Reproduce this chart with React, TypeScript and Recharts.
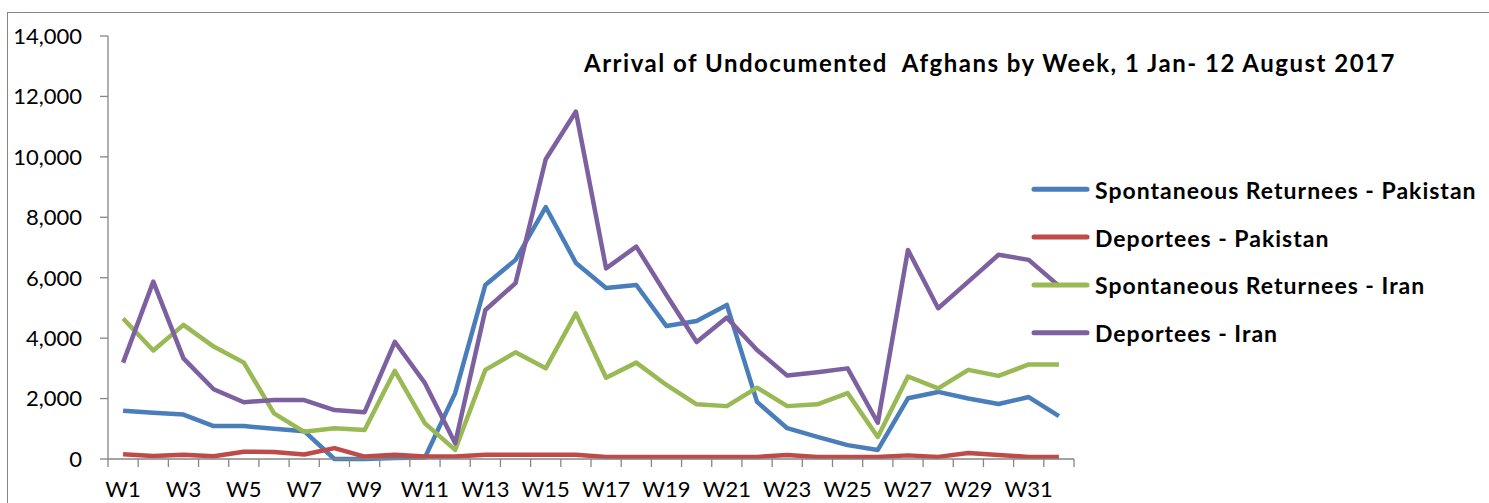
import React from 'react';
import { LineChart, Line, XAxis, YAxis } from 'recharts';

const weeks = [
  'W1', 'W2', 'W3', 'W4', 'W5', 'W6', 'W7', 'W8', 'W9', 'W10', 'W11', 'W12', 'W13', 'W14', 'W15', 'W16',
  'W17', 'W18', 'W19', 'W20', 'W21', 'W22', 'W23', 'W24', 'W25', 'W26', 'W27', 'W28', 'W29', 'W30', 'W31', 'W32',
];

const spontPakistan = [
  1600, 1530, 1470, 1090, 1090, 1000, 920, 0, 0, 30, 50, 2180, 5760, 6590, 8340, 6490,
  5660, 5760, 4400, 4570, 5100, 1890, 1020, 730, 460, 300, 2010, 2220, 2000, 1820, 2050, 1420,
];
const deportPakistan = [
  160, 100, 140, 90, 240, 230, 150, 360, 80, 140, 80, 80, 140, 140, 140, 140,
  70, 70, 70, 70, 70, 70, 130, 70, 70, 70, 120, 70, 200, 130, 70, 70,
];
const spontIran = [
  4650, 3590, 4440, 3720, 3190, 1510, 900, 1020, 960, 2920, 1180, 300, 2950, 3530, 3000, 4820,
  2690, 3190, 2450, 1810, 1750, 2360, 1750, 1810, 2180, 730, 2730, 2340, 2950, 2750, 3130, 3130,
];
const deportIran = [
  3190, 5870, 3330, 2310, 1880, 1950, 1950, 1620, 1550, 3880, 2510, 520, 4930, 5820, 9920, 11500,
  6310, 7030, 5430, 3870, 4680, 3610, 2760, 2870, 3000, 1200, 6920, 4990, 5870, 6760, 6590, 5730,
];

const yTicks = [0, 2000, 4000, 6000, 8000, 10000, 12000, 14000];

const seriesNames = [
  'Spontaneous Returnees - Pakistan',
  'Deportees - Pakistan',
  'Spontaneous Returnees - Iran',
  'Deportees - Iran',
];
const seriesKeys = ['spontPak', 'deportPak', 'spontIran', 'deportIran'];
const seriesColors = ['#4a7ebb', '#be4b48', '#98b954', '#7d60a0'];

const title = 'Arrival of Undocumented  Afghans by Week, 1 Jan- 12 August 2017';

const data = weeks.map((w, i) => ({
  n: i + 1,
  spontPak: spontPakistan[i],
  deportPak: deportPakistan[i],
  spontIran: spontIran[i],
  deportIran: deportIran[i],
}));

const W = 1489;
const H = 503;
const plotLeft = 108;
const plotRight = 1074;
const plotTop = 36;
const plotBottom = 459;
const step = (plotRight - plotLeft) / weeks.length;
const font = 'Lato, "Open Sans", sans-serif';
const axisColor = '#868686';

const WeekTick = (props: any) => {
  const { x, y, payload } = props;
  const v = payload.value as number;
  const bx = x - step / 2;
  return (
    <g>
      <line x1={bx} y1={y - 8} x2={bx} y2={y} stroke={axisColor} strokeWidth={1.3} />
      {v === weeks.length && (
        <line x1={x + step / 2} y1={y - 8} x2={x + step / 2} y2={y} stroke={axisColor} strokeWidth={1.3} />
      )}
      {v % 2 === 1 && (
        <text x={x} y={y + 30} textAnchor="middle" fill="#000" fontSize={22} fontFamily={font}>
          {weeks[v - 1]}
        </text>
      )}
    </g>
  );
};

export default function App() {
  return (
    <div style={{ position: 'absolute', left: 0, top: 0, width: W, height: H, background: '#fff', overflow: 'hidden' }}>
      <div
        style={{
          position: 'absolute',
          left: 7,
          top: 12,
          width: W,
          height: H,
          borderLeft: `1.5px solid ${axisColor}`,
          borderTop: `1.5px solid ${axisColor}`,
        }}
      />
      <div style={{ position: 'absolute', left: 0, top: 0 }}>
        <LineChart
          width={W}
          height={H}
          data={data}
          margin={{ top: plotTop, right: W - plotRight, bottom: 0, left: plotLeft - 100 }}
        >
          <XAxis
            dataKey="n"
            type="number"
            domain={[0.5, weeks.length + 0.5]}
            ticks={weeks.map((_, i) => i + 1)}
            interval={0}
            height={H - plotBottom}
            tickLine={false}
            tickSize={8}
            tickMargin={0}
            stroke={axisColor}
            axisLine={{ stroke: axisColor, strokeWidth: 1.3 }}
            tick={<WeekTick />}
            allowDataOverflow
          />
          <YAxis
            width={100}
            domain={[0, 14000]}
            ticks={yTicks}
            interval={0}
            tickSize={8}
            tickMargin={18}
            stroke={axisColor}
            axisLine={{ stroke: axisColor, strokeWidth: 1.3 }}
            tickLine={{ stroke: axisColor, strokeWidth: 1.3 }}
            tick={{ fill: '#000', fontSize: 22, fontFamily: font }}
            tickFormatter={(v: number) => v.toLocaleString('en-US')}
          />
          {seriesKeys.map((k, i) => (
            <Line
              key={k}
              dataKey={k}
              name={seriesNames[i]}
              type="linear"
              stroke={seriesColors[i]}
              strokeWidth={4.5}
              strokeLinejoin="round"
              dot={false}
              activeDot={false}
              isAnimationActive={false}
            />
          ))}
        </LineChart>
      </div>
      <svg width={W} height={H} style={{ position: 'absolute', left: 0, top: 0, pointerEvents: 'none' }}>
        <text
          x={584}
          y={72}
          fontSize={24}
          fontWeight={700}
          fontFamily={font}
          letterSpacing={1.5}
          fill="#000"
          style={{ whiteSpace: 'pre' }}
        >
          {title}
        </text>
        {seriesNames.map((name, i) => {
          const cy = 189.3 + i * 47.8;
          return (
            <g key={name}>
              <line x1={1034} y1={cy} x2={1087} y2={cy} stroke={seriesColors[i]} strokeWidth={5} strokeLinecap="round" />
              <text x={1095} y={cy + 9.5} fontSize={23} fontWeight={700} fontFamily={font} letterSpacing={1} fill="#000">
                {name}
              </text>
            </g>
          );
        })}
      </svg>
    </div>
  );
}
